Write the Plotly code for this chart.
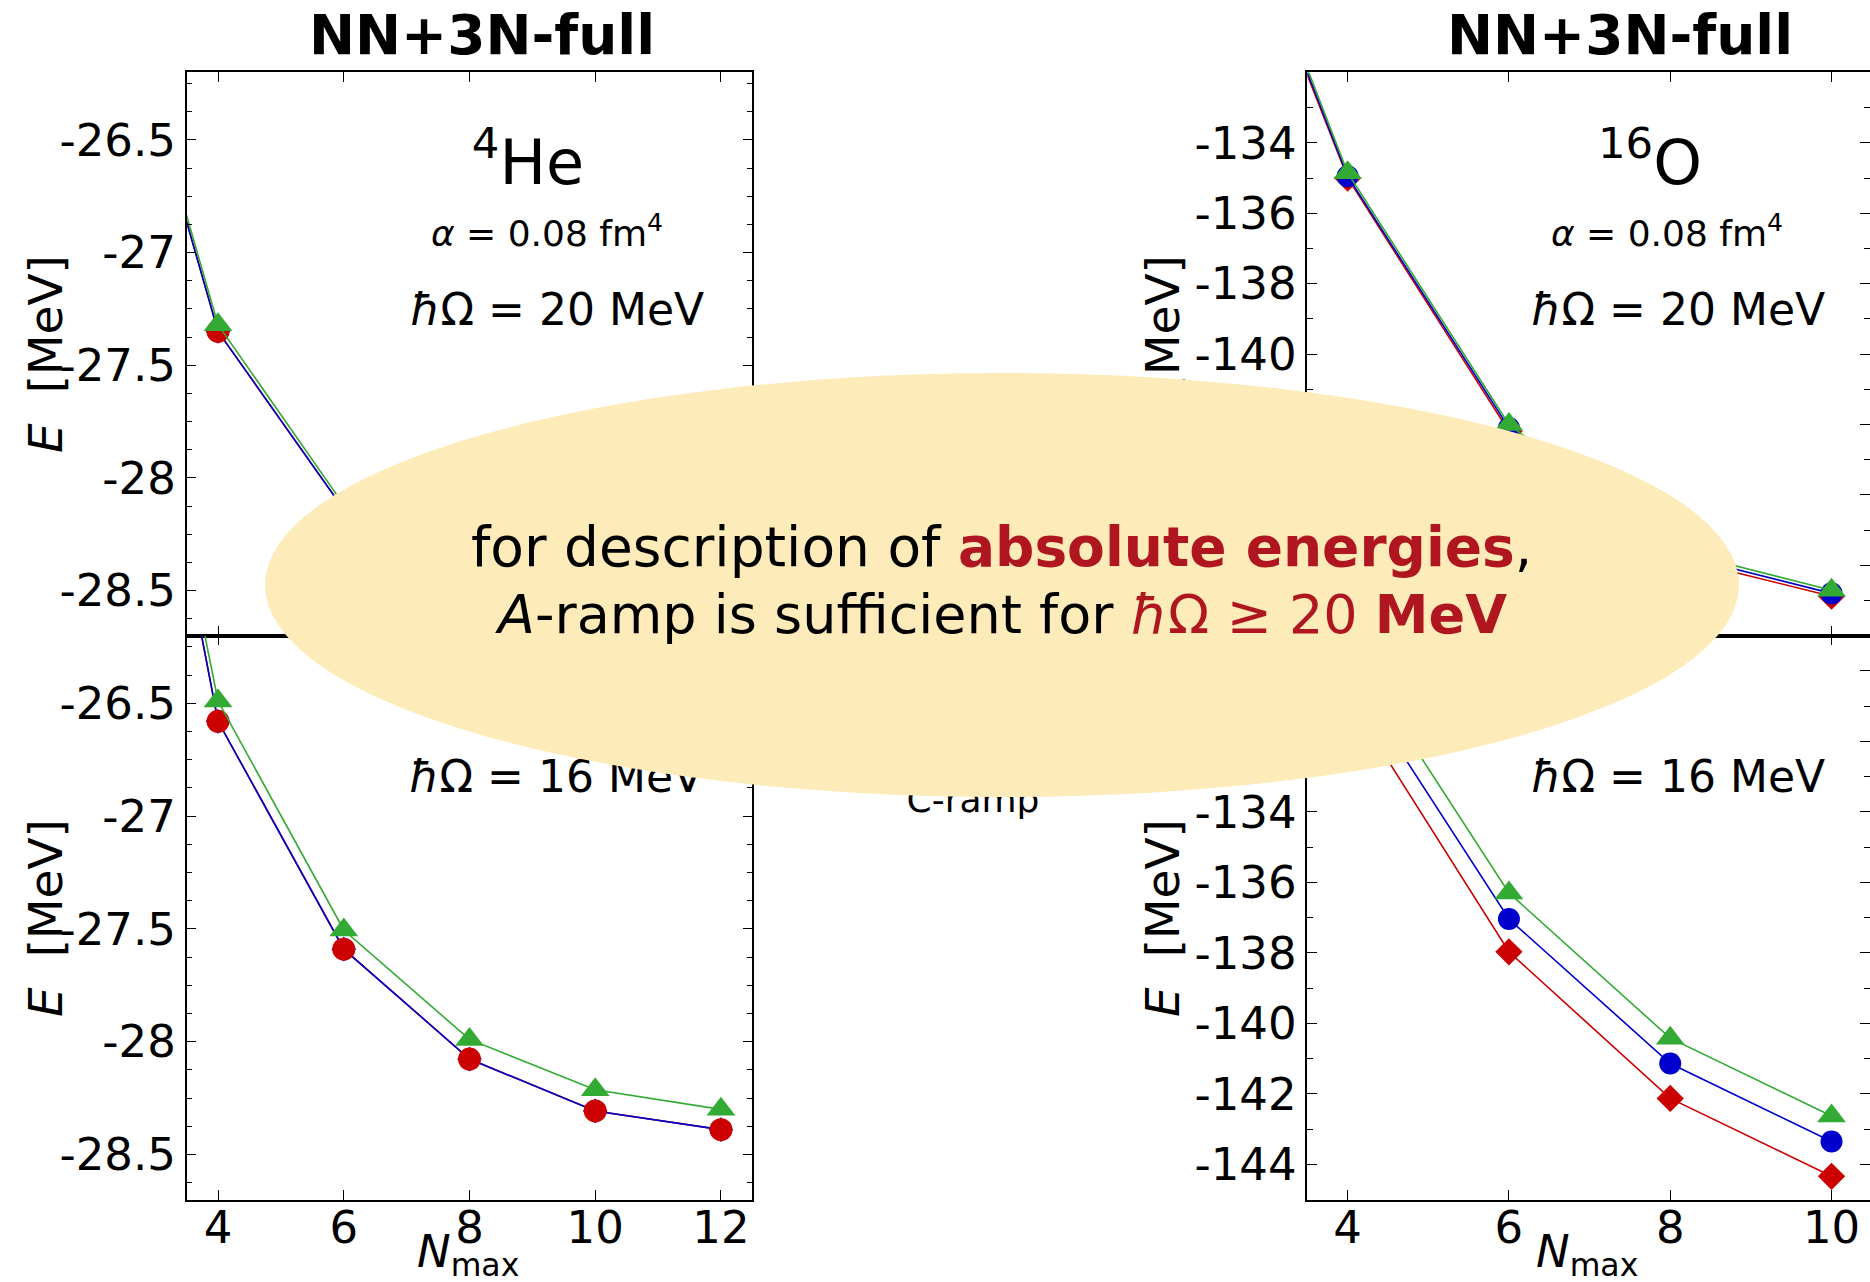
import plotly.graph_objects as go

W, H = 1870, 1282
FONT = "DejaVu Sans"

# ---------------- data ----------------
nmax_he = [2, 4, 6, 8, 10, 12]
nmax_o = [2, 4, 6, 8, 10]

# 4He, hbar*Omega = 20 MeV
he20_red = [-25.40, -27.35, -28.14, -28.44, -28.55, -28.59]
he20_blue = [-25.40, -27.35, -28.14, -28.44, -28.55, -28.59]
he20_green = [-25.38, -27.32, -28.12, -28.42, -28.53, -28.57]

# 4He, hbar*Omega = 16 MeV
he16_red = [-23.68, -26.58, -27.59, -28.077, -28.307, -28.39]
he16_blue = [-23.68, -26.58, -27.59, -28.077, -28.307, -28.39]
he16_green = [-23.71, -26.49, -27.505, -27.99, -28.213, -28.30]

# 16O, hbar*Omega = 20 MeV
o20_red = [-123.3, -135.0, -142.2, -145.75, -146.88]
o20_blue = [-123.15, -134.95, -142.1, -145.65, -146.80]
o20_green = [-123.0, -134.85, -142.0, -145.55, -146.71]

# 16O, hbar*Omega = 16 MeV
o16_red = [-118.5, -130.73, -137.97, -142.13, -144.34]
o16_blue = [-118.0, -129.97, -137.04, -141.14, -143.35]
o16_green = [-117.5, -129.24, -136.30, -140.42, -142.63]

he_yticks = [-28.5, -28.0, -27.5, -27.0, -26.5]
he_yticklabels = ["-28.5", "-28", "-27.5", "-27", "-26.5"]
o20_yticks = [-146, -144, -142, -140, -138, -136, -134]
o20_yticklabels = ["-146", "-144", "-142", "-140", "-138", "-136", "-134"]
o16_yticks = [-144, -142, -140, -138, -136, -134, -132, -130]
o16_yticklabels = ["-144", "-142", "-140", "-138", "-136", "-134", "-132", "-130"]
he_xticks = [4, 6, 8, 10, 12]
o_xticks = [4, 6, 8, 10]

RED, BLUE, GREEN = "#cc0000", "#0000cc", "#33aa33"
TXTRED = "#b0161f"
ELLIPSE = "#fdebba"

# ---------------- geometry (pixels) ----------------
def px(x):
    return x / W

def py(y):
    return 1 - y / H

LEFT_X = [px(186.6), px(752.4)]
RIGHT_X = [px(1307.3), 1.0]
TOP_Y = [py(635.6), py(72.4)]
BOT_Y = [py(1199.6), py(635.6)]

fig = go.Figure()


def add(x, y, color, symbol, size, xa, ya, mode="lines+markers"):
    fig.add_trace(go.Scatter(
        x=x, y=y, mode=mode, xaxis=xa, yaxis=ya, showlegend=False,
        line=dict(color=color, width=1.6),
        marker=dict(symbol=symbol, size=size, color=color, line=dict(width=0)),
        cliponaxis=True, hoverinfo="skip"))


# 4He panels: red line, blue (diamond), red circles on top, green triangles
for ya, xa, r, b, g in [("y", "x", he20_red, he20_blue, he20_green),
                        ("y3", "x3", he16_red, he16_blue, he16_green)]:
    add(nmax_he, r, RED, "circle", 23, xa, ya, mode="lines")
    add(nmax_he, b, BLUE, "diamond", 19, xa, ya)
    add(nmax_he, r, RED, "circle", 23, xa, ya, mode="markers")
    add(nmax_he, g, GREEN, "triangle-up", 25, xa, ya)

# 16O panels: red diamonds, blue circles, green triangles
for ya, xa, r, b, g in [("y2", "x2", o20_red, o20_blue, o20_green),
                        ("y4", "x4", o16_red, o16_blue, o16_green)]:
    add(nmax_o, r, RED, "diamond", 21, xa, ya)
    add(nmax_o, b, BLUE, "circle", 22, xa, ya)
    add(nmax_o, g, GREEN, "triangle-up", 25, xa, ya)

tickfont = dict(family=FONT, size=45, color="black")


def xax(domain, rng, anchor, ticks, labels):
    return dict(domain=domain, range=rng, anchor=anchor,
                tickmode="array", tickvals=ticks, ticktext=[str(t) for t in ticks],
                showticklabels=labels, ticks="inside", ticklen=10, tickwidth=1.4,
                tickcolor="black", showline=True, linecolor="black", linewidth=1.5,
                mirror="ticks", showgrid=False, zeroline=False, tickfont=tickfont,
                ticklabelstandoff=-12, automargin=False)


def yax(domain, rng, anchor, ticks, labels, minor):
    return dict(domain=domain, range=rng, anchor=anchor,
                tickmode="array", tickvals=ticks, ticktext=labels,
                ticks="inside", ticklen=10, tickwidth=1.4, tickcolor="black",
                showline=True, linecolor="black", linewidth=1.5, mirror="ticks",
                showgrid=False, zeroline=False, tickfont=tickfont,
                ticklabelstandoff=0, automargin=False,
                minor=dict(tickmode="linear", tick0=0, dtick=minor, ticks="inside",
                           ticklen=6, tickwidth=1.2, tickcolor="black", showgrid=False))


fig.update_layout(
    width=W, height=H, margin=dict(l=0, r=0, t=0, b=0),
    paper_bgcolor="white", plot_bgcolor="white", template="none",
    showlegend=False,
    xaxis=xax(LEFT_X, [3.5, 12.5], "y", he_xticks, False),
    yaxis=yax(TOP_Y, [-28.7, -26.2], "x", he_yticks, he_yticklabels, 0.125),
    xaxis2=xax(RIGHT_X, [3.5, 10.477], "y2", o_xticks, False),
    yaxis2=yax(TOP_Y, [-148, -132], "x2", o20_yticks, o20_yticklabels, 1),
    xaxis3=xax(LEFT_X, [3.5, 12.5], "y3", he_xticks, True),
    yaxis3=yax(BOT_Y, [-28.7, -26.2], "x3", he_yticks, he_yticklabels, 0.125),
    xaxis4=xax(RIGHT_X, [3.5, 10.477], "y4", o_xticks, True),
    yaxis4=yax(BOT_Y, [-145, -129], "x4", o16_yticks, o16_yticklabels, 1),
)


# ---------- texts that lie below the overlay ellipse (shape labels) ----------
def text_shape(cx, cy, text, size, angle=0):
    return dict(type="rect", xref="paper", yref="paper",
                x0=px(cx - 1), x1=px(cx + 1), y0=py(cy + 1), y1=py(cy - 1),
                line=dict(width=0), fillcolor="rgba(0,0,0,0)", layer="above",
                label=dict(text=text, textposition="middle center", textangle=angle,
                           font=dict(family=FONT, size=size, color="black")))


shapes = [
    text_shape(528, 163, "<sup>4</sup>He", 62),
    text_shape(1650, 163, "<sup>16</sup>O", 62),
    text_shape(547, 233, "<i>α</i> = 0.08 fm<sup>4</sup>", 36),
    text_shape(1667, 233, "<i>α</i> = 0.08 fm<sup>4</sup>", 36),
    text_shape(557, 306, "<i>ħ</i>Ω = 20 MeV", 44),
    text_shape(1678, 306, "<i>ħ</i>Ω = 20 MeV", 44),
    text_shape(556, 773, "<i>ħ</i>Ω = 16 MeV", 44),
    text_shape(1678, 773, "<i>ħ</i>Ω = 16 MeV", 44),
    text_shape(973, 796, "C-ramp", 36),
    text_shape(42, 354, "<i>E</i>  [MeV]", 47, -90),
    text_shape(42, 918, "<i>E</i>  [MeV]", 47, -90),
    text_shape(1159, 354, "<i>E</i>  [MeV]", 47, -90),
    text_shape(1159, 918, "<i>E</i>  [MeV]", 47, -90),
    dict(type="circle", xref="paper", yref="paper",
         x0=px(265), x1=px(1739), y0=py(797), y1=py(373),
         fillcolor=ELLIPSE, line=dict(width=0), layer="above"),
]
fig.update_layout(shapes=shapes)


def ann(cx, cy, text, size):
    return dict(x=px(cx), y=py(cy), xref="paper", yref="paper", text=text,
                showarrow=False, xanchor="center", yanchor="middle",
                font=dict(family=FONT, size=size, color="black"))


fig.update_layout(annotations=[
    ann(482, 35, "<b>NN+3N-full</b>", 55),
    ann(1620, 35, "<b>NN+3N-full</b>", 55),
    ann(1001, 547, "for description of <span style='color:%s'><b>absolute energies</b></span>," % TXTRED, 55),
    ann(1001, 614, "<i>A</i>-ramp is sufficient for <span style='color:%s'><i>ħ</i>Ω ≥ 20 <b>MeV</b></span>" % TXTRED, 54),
    ann(468, 1254, "<i>N</i><sub>max</sub>", 45),
    ann(1587, 1254, "<i>N</i><sub>max</sub>", 45),
])

fig.write_html("out.html")
